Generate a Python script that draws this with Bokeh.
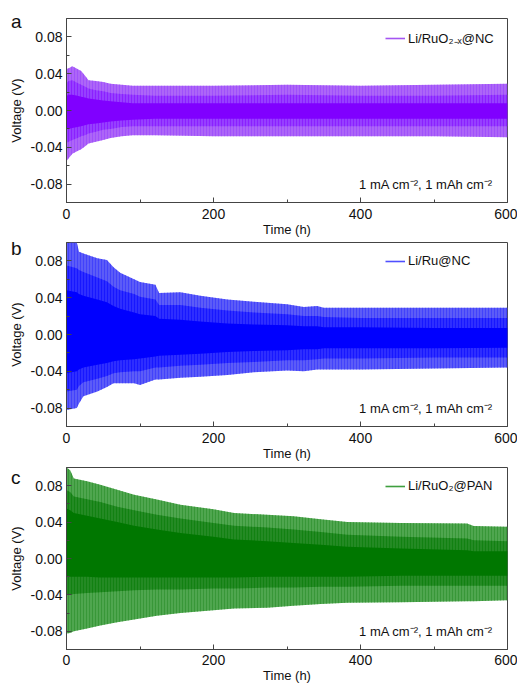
from bokeh.plotting import figure
from bokeh.models import Range1d, FixedTicker, Label, Legend, LegendItem, Div, GridBox
from bokeh.embed import file_html
from bokeh.resources import INLINE

# ---------------- data (envelopes) ----------------
x_ticks = [0, 200, 400, 600]
x_minor = [100, 300, 500]
y_ticks = [-0.08, -0.04, 0.0, 0.04, 0.08]
y_tick_labels = ["-0.08", "-0.04", "0.00", "0.04", "0.08"]
y_minor = [-0.1, -0.06, -0.02, 0.02, 0.06, 0.1]

# panel a : Li/RuO2-x@NC
t_a = [0, 3, 8, 15, 20, 25, 30, 40, 50, 60, 75, 90, 120, 200, 300, 400, 500, 600]
a_out_hi = [0.045, 0.046, 0.048, 0.045, 0.043, 0.038, 0.033, 0.032, 0.031, 0.029, 0.028, 0.027, 0.027, 0.027, 0.028, 0.027, 0.028, 0.029]
a_out_lo = [-0.055, -0.052, -0.047, -0.044, -0.042, -0.039, -0.036, -0.034, -0.032, -0.030, -0.028, -0.027, -0.027, -0.028, -0.028, -0.028, -0.028, -0.029]
a_mid_hi = [0.030, 0.032, 0.033, 0.030, 0.028, 0.026, 0.024, 0.022, 0.021, 0.019, 0.018, 0.017, 0.016, 0.016, 0.017, 0.016, 0.016, 0.017]
a_mid_lo = [-0.035, -0.034, -0.032, -0.030, -0.028, -0.027, -0.025, -0.023, -0.021, -0.020, -0.018, -0.017, -0.017, -0.017, -0.017, -0.017, -0.017, -0.017]
a_core_hi = [0.016, 0.017, 0.017, 0.016, 0.015, 0.014, 0.013, 0.012, 0.011, 0.010, 0.009, 0.008, 0.008, 0.008, 0.008, 0.008, 0.008, 0.008]
a_core_lo = [-0.020, -0.020, -0.019, -0.018, -0.017, -0.016, -0.015, -0.014, -0.013, -0.012, -0.011, -0.010, -0.009, -0.009, -0.009, -0.009, -0.009, -0.009]

# panel b : Li/Ru@NC
t_b = [0, 14, 17, 23, 42, 55, 64, 73, 92, 100, 121, 126, 155, 182, 219, 255, 300, 323, 341, 350, 400, 500, 600]
b_out_hi = [0.100, 0.100, 0.090, 0.088, 0.083, 0.081, 0.073, 0.067, 0.060, 0.057, 0.054, 0.045, 0.046, 0.042, 0.038, 0.0355, 0.033, 0.030, 0.031, 0.029, 0.029, 0.029, 0.029]
b_out_lo = [-0.082, -0.080, -0.075, -0.067, -0.062, -0.057, -0.053, -0.053, -0.053, -0.055, -0.049, -0.049, -0.047, -0.046, -0.044, -0.041, -0.039, -0.040, -0.038, -0.038, -0.038, -0.037, -0.036]
b_mid_hi = [0.075, 0.072, 0.070, 0.068, 0.062, 0.058, 0.052, 0.048, 0.044, 0.041, 0.038, 0.032, 0.032, 0.029, 0.026, 0.024, 0.022, 0.020, 0.020, 0.019, 0.018, 0.018, 0.018]
b_mid_lo = [-0.062, -0.060, -0.056, -0.052, -0.048, -0.045, -0.042, -0.041, -0.040, -0.040, -0.036, -0.036, -0.034, -0.033, -0.031, -0.030, -0.028, -0.028, -0.027, -0.026, -0.026, -0.025, -0.025]
b_core_hi = [0.048, 0.046, 0.044, 0.042, 0.038, 0.035, 0.031, 0.028, 0.024, 0.022, 0.020, 0.017, 0.016, 0.014, 0.012, 0.011, 0.010, 0.009, 0.009, 0.008, 0.008, 0.007, 0.007]
b_core_lo = [-0.042, -0.040, -0.038, -0.036, -0.033, -0.031, -0.029, -0.028, -0.027, -0.026, -0.024, -0.023, -0.022, -0.021, -0.019, -0.018, -0.017, -0.016, -0.016, -0.015, -0.015, -0.015, -0.0145]

# panel c : Li/RuO2@PAN
t_c = [0, 5, 10, 28, 46, 69, 92, 123, 155, 200, 228, 273, 309, 346, 382, 455, 545, 554, 600]
c_out_hi = [0.100, 0.097, 0.088, 0.085, 0.081, 0.0756, 0.070, 0.0647, 0.059, 0.054, 0.050, 0.048, 0.0465, 0.043, 0.040, 0.039, 0.0385, 0.0356, 0.035]
c_out_lo = [-0.0825, -0.082, -0.080, -0.077, -0.0735, -0.070, -0.067, -0.063, -0.060, -0.057, -0.055, -0.054, -0.052, -0.050, -0.0485, -0.048, -0.047, -0.047, -0.046]
c_mid_hi = [0.075, 0.073, 0.068, 0.065, 0.062, 0.057, 0.053, 0.048, 0.044, 0.039, 0.036, 0.034, 0.032, 0.029, 0.026, 0.024, 0.022, 0.020, 0.019]
c_mid_lo = [-0.040, -0.040, -0.039, -0.038, -0.037, -0.036, -0.035, -0.034, -0.034, -0.033, -0.033, -0.032, -0.032, -0.031, -0.031, -0.030, -0.030, -0.030, -0.030]
c_core_hi = [0.055, 0.053, 0.050, 0.047, 0.044, 0.040, 0.036, 0.032, 0.028, 0.024, 0.021, 0.019, 0.017, 0.015, 0.013, 0.011, 0.009, 0.008, 0.008]
c_core_lo = [-0.020, -0.020, -0.020, -0.020, -0.021, -0.021, -0.021, -0.021, -0.021, -0.021, -0.021, -0.020, -0.020, -0.020, -0.020, -0.019, -0.019, -0.019, -0.019]

legend_a = "Li/RuO\u2082\u208B\u2093@NC"
legend_b = "Li/Ru@NC"
legend_c = "Li/RuO\u2082@PAN"
condition = "1 mA cm\u207B\u00B2, 1 mAh cm\u207B\u00B2"
x_title = "Time (h)"
y_title = "Voltage (V)"
panel_letters = ["a", "b", "c"]

FONT = "Liberation Sans"


def panel(t, out_hi, out_lo, mid_hi, mid_lo, core_hi, core_lo,
          light, mid, core, leg_col, leg_text, border_top, frame_h, lab_standoff):
    p = figure(frame_width=441, frame_height=frame_h,
               x_range=Range1d(0, 600), y_range=Range1d(-0.1, 0.1),
               output_backend="svg", toolbar_location=None,
               min_border_left=66, min_border_right=10,
               min_border_top=border_top, min_border_bottom=0)
    p.xgrid.visible = False
    p.ygrid.visible = False
    p.outline_line_color = "#444444"
    p.outline_line_width = 1

    p.varea(x=t, y1=out_lo, y2=out_hi, fill_color=light,
            hatch_pattern="vertical_line", hatch_color=mid, hatch_alpha=0.55,
            hatch_scale=3, hatch_weight=1)
    p.varea(x=t, y1=mid_lo, y2=mid_hi, fill_color=mid,
            hatch_pattern="vertical_line", hatch_color=core, hatch_alpha=0.5,
            hatch_scale=3, hatch_weight=1)
    p.varea(x=t, y1=core_lo, y2=core_hi, fill_color=core)

    # one-point line: draws nothing in the plot, only provides the legend swatch
    r = p.line(x=t[:1], y=out_hi[:1], line_color=leg_col, line_width=1.6)
    leg = Legend(items=[LegendItem(label=leg_text, renderers=[r])],
                 location="top_right", border_line_alpha=0,
                 background_fill_alpha=0, label_text_font=FONT,
                 label_text_font_size="13px", label_text_color="#111111",
                 glyph_width=20, glyph_height=12, label_height=14,
                 label_width=88, label_standoff=3,
                 padding=2, margin=9, spacing=0)
    p.add_layout(leg)

    p.add_layout(Label(x=580, y=-0.08, text=condition, text_align="right",
                       text_baseline="middle", text_font=FONT,
                       text_font_size="13px", text_color="#111111"))

    for ax in (p.xaxis[0], p.yaxis[0]):
        ax.axis_line_color = "#444444"
        ax.major_tick_line_color = "#444444"
        ax.minor_tick_line_color = "#444444"
        ax.major_tick_in = 5
        ax.major_tick_out = 0
        ax.minor_tick_in = 3
        ax.minor_tick_out = 0
        ax.major_label_text_font = FONT
        ax.major_label_text_font_size = "14px"
        ax.major_label_text_color = "#111111"
        ax.axis_label_text_font = FONT
        ax.axis_label_text_font_size = "13px"
        ax.axis_label_text_font_style = "normal"
        ax.axis_label_text_color = "#111111"

    p.xaxis.ticker = FixedTicker(ticks=x_ticks, minor_ticks=x_minor)
    p.yaxis.ticker = FixedTicker(ticks=y_ticks, minor_ticks=y_minor)
    p.yaxis.major_label_overrides = {v: s for v, s in zip(y_ticks, y_tick_labels)}
    p.xaxis.axis_label = x_title
    p.yaxis.axis_label = y_title
    p.xaxis.major_label_standoff = lab_standoff
    p.xaxis.axis_label_standoff = 0
    p.yaxis.major_label_standoff = 4
    p.yaxis.axis_label_standoff = 4
    return p


def letter_div(letter, top):
    html = ('<div style="font-family:\'Liberation Sans\',Arial,sans-serif;'
            'font-size:19px;line-height:19px;color:#111111;">%s</div>' % letter)
    return Div(text=html, width=20, height=22, margin=(top, 0, 0, 11))


pa = panel(t_a, a_out_hi, a_out_lo, a_mid_hi, a_mid_lo, a_core_hi, a_core_lo,
           "#ad66f7", "#9640ff", "#8000ff", "#a455f2", legend_a, 18, 184, 6)
pb = panel(t_b, b_out_hi, b_out_lo, b_mid_hi, b_mid_lo, b_core_hi, b_core_lo,
           "#5c5cf7", "#2e2eff", "#0000ff", "#5050ff", legend_b, 3, 184, 6)
pc = panel(t_c, c_out_hi, c_out_lo, c_mid_hi, c_mid_lo, c_core_hi, c_core_lo,
           "#4fa64f", "#248a24", "#007700", "#3f9f3f", legend_c, 4, 182, 5)

grid = GridBox(children=[
    (pa, 0, 0), (letter_div(panel_letters[0], 12), 0, 0),
    (pb, 1, 0), (letter_div(panel_letters[1], 0), 1, 0),
    (pc, 2, 0), (letter_div(panel_letters[2], 5), 2, 0),
], spacing=0)

open("out.html", "w").write(file_html(grid, INLINE))
